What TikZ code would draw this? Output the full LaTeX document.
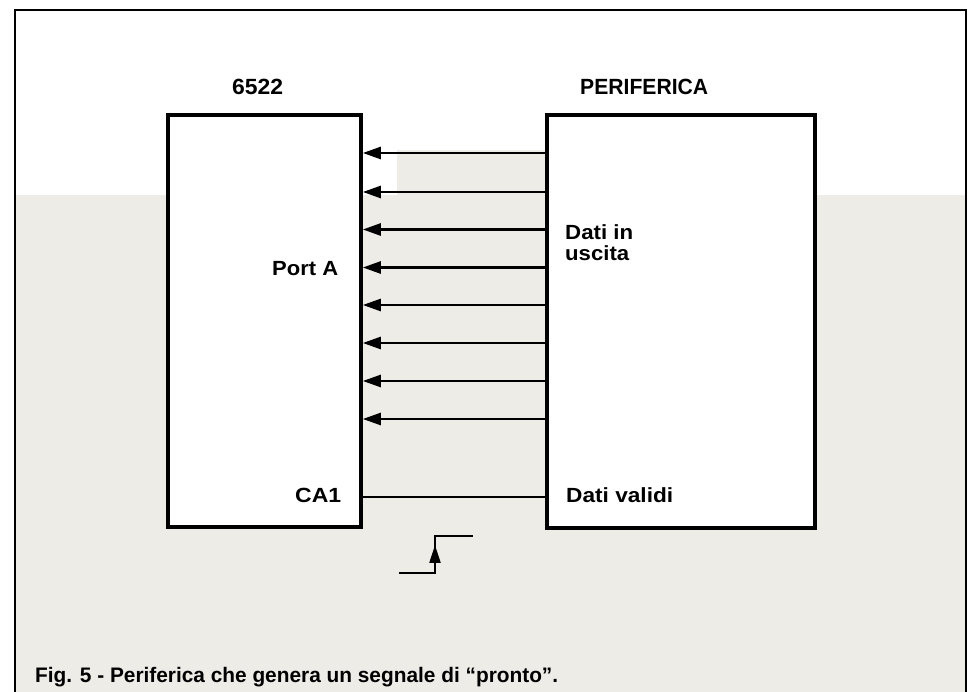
\documentclass[tikz,border=0pt]{standalone}
\usepackage{fontspec}
\usepackage{graphicx}
\setmainfont{Liberation Sans}
\usetikzlibrary{arrows.meta}
\definecolor{bgtint}{HTML}{EDECE7}
\newcommand{\fitw}[2]{\resizebox{#1}{\height}{#2}}
\begin{document}
\begin{tikzpicture}[x=1pt,y=-1pt,
  blk/.style={draw=black,fill=white,line width=3.6pt,inner sep=0pt},
  arr/.style={line width=2.6pt,-{Triangle[length=18pt,width=12pt]}},
  sig/.style={line width=1.8pt},
  hdr/.style={inner sep=0pt,font=\fontsize{22}{25}\selectfont\bfseries},
  lbl/.style={inner sep=0pt,font=\fontsize{20.5}{24}\selectfont\bfseries},
  captxt/.style={inner sep=0pt,font=\fontsize{21}{24}\selectfont\bfseries}]
\useasboundingbox (0,0) rectangle (970,692);
\fill[white] (0,0) rectangle (970,692);
% scanned background tint
\fill[bgtint] (16,195) rectangle (965,692);
\fill[bgtint] (397,150) rectangle (546,195);
% frame
\draw[line width=2pt] (15,692) -- (15,10) -- (966,10) -- (966,692);
% blocks
\node[blk,minimum width=193pt,minimum height=412pt] (chip) at (264.5,321) {};
\node[blk,minimum width=268pt,minimum height=413pt] (per) at (681,321.5) {};
% headers
\node[hdr,anchor=base west] (t1) at (232,95) {\fitw{51pt}{6522}};
\node[hdr,anchor=base west] (t2) at (580,95) {\fitw{128pt}{PERIFERICA}};
% labels
\node[lbl,anchor=base west] (l1) at (272,276) {\fitw{66pt}{Port A}};
\node[lbl,anchor=base west] (l2) at (565,240) {\fitw{68pt}{Dati in}};
\node[lbl,anchor=base west] (l3) at (565,261) {\fitw{64pt}{uscita}};
\node[lbl,anchor=base west] (l4) at (295,503) {\fitw{46pt}{CA1}};
\node[lbl,anchor=base west] (l5) at (566,503) {\fitw{107pt}{Dati validi}};
% data lines
\foreach \yy in {153,192,229.5,267.5,305,343,381,419}
  \draw[arr] (per.west |- 0,\yy) -- (chip.east |- 0,\yy);
% CA1 line
\draw[sig] (per.west |- 0,497) -- (chip.east |- 0,497);
% rising edge symbol
\coordinate (s0) at (399,573);
\coordinate (s1) at (435,573);
\coordinate (s2) at (435,536);
\coordinate (s3) at (473,536);
\draw[line width=2.2pt] (s0) -- (s1) -- (s2) -- (s3);
\coordinate (a0) at (435,564);
\coordinate (a1) at (435,545);
\draw[line width=2.2pt,-{Triangle[length=18pt,width=11pt]}] (a0) -- (a1);
% caption
\node[captxt,anchor=base west] (caption) at (35,682) {\fitw{523pt}{Fig. 5 - Periferica che genera un segnale di “pronto”.}};
\end{tikzpicture}
\end{document}
